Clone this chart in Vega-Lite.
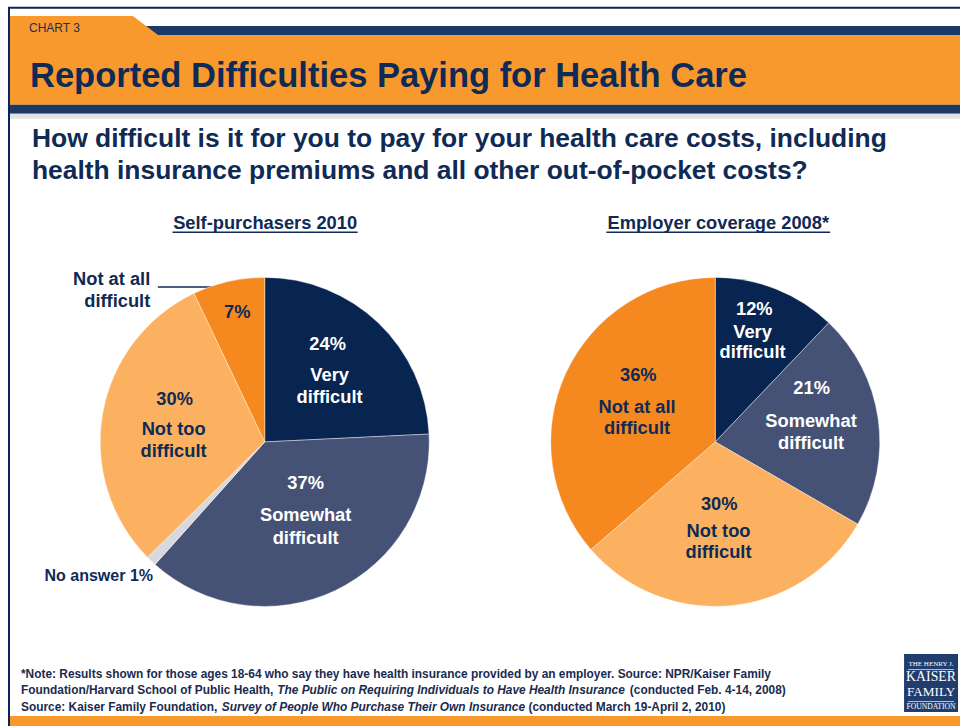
{
  "$schema": "https://vega.github.io/schema/vega-lite/v6.json",
  "width": 961,
  "height": 727,
  "autosize": {"type": "fit", "contains": "padding"},
  "padding": 0,
  "background": "white",
  "config": {
    "view": {"stroke": null},
    "axis": {"disable": true},
    "legend": {"disable": true},
    "font": "Liberation Sans"
  },
  "datasets": {
    "pies": [
      {"chart": "Self-purchasers 2010", "slot": 1, "cat": "Very difficult", "pct": 24, "pctLabel": "24%", "name": "Very\ndifficult"},
      {"chart": "Self-purchasers 2010", "slot": 2, "cat": "Somewhat difficult", "pct": 37, "pctLabel": "37%", "name": "Somewhat\ndifficult"},
      {"chart": "Self-purchasers 2010", "slot": 3, "cat": "No answer", "pct": 1, "pctLabel": "1%", "name": "No answer 1%"},
      {"chart": "Self-purchasers 2010", "slot": 4, "cat": "Not too difficult", "pct": 30, "pctLabel": "30%", "name": "Not too\ndifficult"},
      {"chart": "Self-purchasers 2010", "slot": 5, "cat": "Not at all difficult", "pct": 7, "pctLabel": "7%", "name": "Not at all\ndifficult"},
      {"chart": "Employer coverage 2008*", "slot": 1, "cat": "Very difficult", "pct": 12, "pctLabel": "12%", "name": "Very\ndifficult"},
      {"chart": "Employer coverage 2008*", "slot": 2, "cat": "Somewhat difficult", "pct": 21, "pctLabel": "21%", "name": "Somewhat\ndifficult"},
      {"chart": "Employer coverage 2008*", "slot": 3, "cat": "Not too difficult", "pct": 30, "pctLabel": "30%", "name": "Not too\ndifficult"},
      {"chart": "Employer coverage 2008*", "slot": 4, "cat": "Not at all difficult", "pct": 36, "pctLabel": "36%", "name": "Not at all\ndifficult"}
    ],
    "notes": [
      {"id": "chart", "text": "CHART 3"},
      {"id": "title", "text": "Reported Difficulties Paying for Health Care"},
      {"id": "q", "text": "How difficult is it for you to pay for your health care costs, including\nhealth insurance premiums and all other out-of-pocket costs?"},
      {"id": "sub1", "text": "Self-purchasers 2010"},
      {"id": "sub2", "text": "Employer coverage 2008*"},
      {"id": "f1", "text": "*Note: Results shown for those ages 18-64 who say they have health insurance provided by an employer. Source: NPR/Kaiser Family"},
      {"id": "f2a", "text": "Foundation/Harvard School of Public Health,"},
      {"id": "f2b", "text": "The Public on Requiring Individuals to Have Health Insurance"},
      {"id": "f2c", "text": "(conducted Feb. 4-14, 2008)"},
      {"id": "f3a", "text": "Source: Kaiser Family Foundation,"},
      {"id": "f3b", "text": "Survey of People Who Purchase Their Own Insurance"},
      {"id": "f3c", "text": "(conducted March 19-April 2, 2010)"},
      {"id": "logo1", "text": "THE HENRY J."},
      {"id": "logo2", "text": "KAISER"},
      {"id": "logo3", "text": "FAMILY"},
      {"id": "logo4", "text": "FOUNDATION"}
    ]
  },
  "layer": [
    {
      "data": {"values": [{}]},
      "mark": {"type": "rule", "color": "#0B2258", "strokeWidth": 2},
      "encoding": {
        "x": {"datum": 8, "type": "quantitative", "scale": {"domain": [0, 961], "nice": false, "zero": false}, "axis": null},
        "x2": {"datum": 961},
        "y": {"datum": 7.7, "type": "quantitative", "scale": {"domain": [0, 727], "nice": false, "zero": false, "reverse": true}, "axis": null}
      }
    },
    {
      "data": {"values": [{}]},
      "mark": {"type": "rule", "color": "#0B2258", "strokeWidth": 2},
      "encoding": {
        "x": {"datum": 9, "type": "quantitative", "scale": {"domain": [0, 961], "nice": false, "zero": false}, "axis": null},
        "y": {"datum": 7, "type": "quantitative", "scale": {"domain": [0, 727], "nice": false, "zero": false, "reverse": true}, "axis": null},
        "y2": {"datum": 727}
      }
    },
    {
      "data": {"values": [{}]},
      "mark": {"type": "rect", "color": "#F8992D"},
      "encoding": {
        "x": {"datum": 10, "type": "quantitative", "scale": {"domain": [0, 961], "nice": false, "zero": false}, "axis": null},
        "x2": {"datum": 961},
        "y": {"datum": 26, "type": "quantitative", "scale": {"domain": [0, 727], "nice": false, "zero": false, "reverse": true}, "axis": null},
        "y2": {"datum": 105}
      }
    },
    {
      "data": {"values": [{}]},
      "mark": {"type": "rect", "color": "#F8992D"},
      "encoding": {
        "x": {"datum": 10, "type": "quantitative", "scale": {"domain": [0, 961], "nice": false, "zero": false}, "axis": null},
        "x2": {"datum": 133},
        "y": {"datum": 16, "type": "quantitative", "scale": {"domain": [0, 727], "nice": false, "zero": false, "reverse": true}, "axis": null},
        "y2": {"datum": 26}
      }
    },
    {
      "data": {"values": [{}]},
      "mark": {"type": "rect", "color": "#1B3A66"},
      "encoding": {
        "x": {"datum": 146, "type": "quantitative", "scale": {"domain": [0, 961], "nice": false, "zero": false}, "axis": null},
        "x2": {"datum": 961},
        "y": {"datum": 26, "type": "quantitative", "scale": {"domain": [0, 727], "nice": false, "zero": false, "reverse": true}, "axis": null},
        "y2": {"datum": 35}
      }
    },
    {
      "data": {"values": [{}]},
      "mark": {"type": "rule", "color": "#F8992D", "strokeWidth": 8, "strokeCap": "butt"},
      "encoding": {
        "x": {"datum": 130.6, "type": "quantitative", "scale": {"domain": [0, 961], "nice": false, "zero": false}, "axis": null},
        "x2": {"datum": 157.5},
        "y": {"datum": 19.2, "type": "quantitative", "scale": {"domain": [0, 727], "nice": false, "zero": false, "reverse": true}, "axis": null},
        "y2": {"datum": 39.6}
      }
    },
    {
      "data": {"values": [{}]},
      "mark": {"type": "rect", "color": "#1B3A66"},
      "encoding": {
        "x": {"datum": 10, "type": "quantitative", "scale": {"domain": [0, 961], "nice": false, "zero": false}, "axis": null},
        "x2": {"datum": 961},
        "y": {"datum": 105, "type": "quantitative", "scale": {"domain": [0, 727], "nice": false, "zero": false, "reverse": true}, "axis": null},
        "y2": {"datum": 114}
      }
    },
    {
      "data": {"values": [{}]},
      "mark": {"type": "rect", "color": "#E3E3E3"},
      "encoding": {
        "x": {"datum": 10, "type": "quantitative", "scale": {"domain": [0, 961], "nice": false, "zero": false}, "axis": null},
        "x2": {"datum": 961},
        "y": {"datum": 114, "type": "quantitative", "scale": {"domain": [0, 727], "nice": false, "zero": false, "reverse": true}, "axis": null},
        "y2": {"datum": 119}
      }
    },
    {
      "data": {"values": [{}]},
      "mark": {"type": "rect", "color": "#F8992D"},
      "encoding": {
        "x": {"datum": 10, "type": "quantitative", "scale": {"domain": [0, 961], "nice": false, "zero": false}, "axis": null},
        "x2": {"datum": 961},
        "y": {"datum": 717, "type": "quantitative", "scale": {"domain": [0, 727], "nice": false, "zero": false, "reverse": true}, "axis": null},
        "y2": {"datum": 727}
      }
    },
    {
      "data": {"values": [{}]},
      "mark": {"type": "rect", "color": "#213D6D"},
      "encoding": {
        "x": {"datum": 905, "type": "quantitative", "scale": {"domain": [0, 961], "nice": false, "zero": false}, "axis": null},
        "x2": {"datum": 959},
        "y": {"datum": 655, "type": "quantitative", "scale": {"domain": [0, 727], "nice": false, "zero": false, "reverse": true}, "axis": null},
        "y2": {"datum": 713}
      }
    },
    {
      "data": {"values": [{}]},
      "mark": {"type": "rule", "color": "#FFFFFF", "strokeWidth": 0.7},
      "encoding": {
        "x": {"datum": 909, "type": "quantitative", "scale": {"domain": [0, 961], "nice": false, "zero": false}, "axis": null},
        "x2": {"datum": 955},
        "y": {"datum": 670.5, "type": "quantitative", "scale": {"domain": [0, 727], "nice": false, "zero": false, "reverse": true}, "axis": null}
      }
    },
    {
      "data": {"values": [{}]},
      "mark": {"type": "rule", "color": "#FFFFFF", "strokeWidth": 0.7},
      "encoding": {
        "x": {"datum": 909, "type": "quantitative", "scale": {"domain": [0, 961], "nice": false, "zero": false}, "axis": null},
        "x2": {"datum": 955},
        "y": {"datum": 702.5, "type": "quantitative", "scale": {"domain": [0, 727], "nice": false, "zero": false, "reverse": true}, "axis": null}
      }
    },
    {
      "data": {"values": [{}]},
      "mark": {"type": "rule", "color": "#0F2A55", "strokeWidth": 1.6},
      "encoding": {
        "x": {"datum": 172.7, "type": "quantitative", "scale": {"domain": [0, 961], "nice": false, "zero": false}, "axis": null},
        "x2": {"datum": 358},
        "y": {"datum": 232.5, "type": "quantitative", "scale": {"domain": [0, 727], "nice": false, "zero": false, "reverse": true}, "axis": null}
      }
    },
    {
      "data": {"values": [{}]},
      "mark": {"type": "rule", "color": "#0F2A55", "strokeWidth": 1.6},
      "encoding": {
        "x": {"datum": 607, "type": "quantitative", "scale": {"domain": [0, 961], "nice": false, "zero": false}, "axis": null},
        "x2": {"datum": 831},
        "y": {"datum": 232.5, "type": "quantitative", "scale": {"domain": [0, 727], "nice": false, "zero": false, "reverse": true}, "axis": null}
      }
    },
    {
      "data": {"values": [{}]},
      "mark": {"type": "rule", "color": "#0F2A55", "strokeWidth": 1.5},
      "encoding": {
        "x": {"datum": 158, "type": "quantitative", "scale": {"domain": [0, 961], "nice": false, "zero": false}, "axis": null},
        "x2": {"datum": 220},
        "y": {"datum": 287.5, "type": "quantitative", "scale": {"domain": [0, 727], "nice": false, "zero": false, "reverse": true}, "axis": null}
      }
    },
    {
      "data": {"name": "notes"},
      "transform": [{"filter": "datum.id === 'chart'"}],
      "mark": {"type": "text", "align": "left", "baseline": "alphabetic", "fontSize": 12, "color": "#1C2E4F"},
      "encoding": {
        "text": {"field": "text"},
        "x": {"datum": 29, "type": "quantitative", "scale": {"domain": [0, 961], "nice": false, "zero": false}, "axis": null},
        "y": {"datum": 32.5, "type": "quantitative", "scale": {"domain": [0, 727], "nice": false, "zero": false, "reverse": true}, "axis": null}
      }
    },
    {
      "data": {"name": "notes"},
      "transform": [{"filter": "datum.id === 'title'"}],
      "mark": {"type": "text", "align": "left", "baseline": "alphabetic", "fontSize": 34.5, "fontWeight": "bold", "color": "#0F2A55"},
      "encoding": {
        "text": {"field": "text"},
        "x": {"datum": 30, "type": "quantitative", "scale": {"domain": [0, 961], "nice": false, "zero": false}, "axis": null},
        "y": {"datum": 87, "type": "quantitative", "scale": {"domain": [0, 727], "nice": false, "zero": false, "reverse": true}, "axis": null}
      }
    },
    {
      "data": {"name": "notes"},
      "transform": [{"filter": "datum.id === 'q'"}],
      "mark": {"type": "text", "align": "left", "baseline": "alphabetic", "fontSize": 26.4, "fontWeight": "bold", "color": "#0F2A55", "lineBreak": "\n", "lineHeight": 31.8},
      "encoding": {
        "text": {"field": "text"},
        "x": {"datum": 32, "type": "quantitative", "scale": {"domain": [0, 961], "nice": false, "zero": false}, "axis": null},
        "y": {"datum": 147.5, "type": "quantitative", "scale": {"domain": [0, 727], "nice": false, "zero": false, "reverse": true}, "axis": null}
      }
    },
    {
      "data": {"name": "notes"},
      "transform": [{"filter": "datum.id === 'sub1'"}],
      "mark": {"type": "text", "align": "center", "baseline": "alphabetic", "fontSize": 18.3, "fontWeight": "bold", "color": "#0F2A55"},
      "encoding": {
        "text": {"field": "text"},
        "x": {"datum": 265.4, "type": "quantitative", "scale": {"domain": [0, 961], "nice": false, "zero": false}, "axis": null},
        "y": {"datum": 229.2, "type": "quantitative", "scale": {"domain": [0, 727], "nice": false, "zero": false, "reverse": true}, "axis": null}
      }
    },
    {
      "data": {"name": "notes"},
      "transform": [{"filter": "datum.id === 'sub2'"}],
      "mark": {"type": "text", "align": "center", "baseline": "alphabetic", "fontSize": 18.3, "fontWeight": "bold", "color": "#0F2A55"},
      "encoding": {
        "text": {"field": "text"},
        "x": {"datum": 719, "type": "quantitative", "scale": {"domain": [0, 961], "nice": false, "zero": false}, "axis": null},
        "y": {"datum": 229.2, "type": "quantitative", "scale": {"domain": [0, 727], "nice": false, "zero": false, "reverse": true}, "axis": null}
      }
    },
    {
      "data": {"name": "notes"},
      "transform": [{"filter": "datum.id === 'f1'"}],
      "mark": {"type": "text", "align": "left", "baseline": "alphabetic", "fontSize": 11.9, "fontWeight": "bold", "color": "#1A2B4F"},
      "encoding": {
        "text": {"field": "text"},
        "x": {"datum": 21, "type": "quantitative", "scale": {"domain": [0, 961], "nice": false, "zero": false}, "axis": null},
        "y": {"datum": 679, "type": "quantitative", "scale": {"domain": [0, 727], "nice": false, "zero": false, "reverse": true}, "axis": null}
      }
    },
    {
      "data": {"name": "notes"},
      "transform": [{"filter": "datum.id === 'f2a'"}],
      "mark": {"type": "text", "align": "left", "baseline": "alphabetic", "fontSize": 11.9, "fontWeight": "bold", "color": "#1A2B4F"},
      "encoding": {
        "text": {"field": "text"},
        "x": {"datum": 21, "type": "quantitative", "scale": {"domain": [0, 961], "nice": false, "zero": false}, "axis": null},
        "y": {"datum": 694.5, "type": "quantitative", "scale": {"domain": [0, 727], "nice": false, "zero": false, "reverse": true}, "axis": null}
      }
    },
    {
      "data": {"name": "notes"},
      "transform": [{"filter": "datum.id === 'f2b'"}],
      "mark": {"type": "text", "align": "left", "baseline": "alphabetic", "fontSize": 11.9, "fontWeight": "bold", "fontStyle": "italic", "color": "#1A2B4F"},
      "encoding": {
        "text": {"field": "text"},
        "x": {"datum": 277.5, "type": "quantitative", "scale": {"domain": [0, 961], "nice": false, "zero": false}, "axis": null},
        "y": {"datum": 694.5, "type": "quantitative", "scale": {"domain": [0, 727], "nice": false, "zero": false, "reverse": true}, "axis": null}
      }
    },
    {
      "data": {"name": "notes"},
      "transform": [{"filter": "datum.id === 'f2c'"}],
      "mark": {"type": "text", "align": "left", "baseline": "alphabetic", "fontSize": 11.9, "fontWeight": "bold", "color": "#1A2B4F"},
      "encoding": {
        "text": {"field": "text"},
        "x": {"datum": 630.5, "type": "quantitative", "scale": {"domain": [0, 961], "nice": false, "zero": false}, "axis": null},
        "y": {"datum": 694.5, "type": "quantitative", "scale": {"domain": [0, 727], "nice": false, "zero": false, "reverse": true}, "axis": null}
      }
    },
    {
      "data": {"name": "notes"},
      "transform": [{"filter": "datum.id === 'f3a'"}],
      "mark": {"type": "text", "align": "left", "baseline": "alphabetic", "fontSize": 11.9, "fontWeight": "bold", "color": "#1A2B4F"},
      "encoding": {
        "text": {"field": "text"},
        "x": {"datum": 21, "type": "quantitative", "scale": {"domain": [0, 961], "nice": false, "zero": false}, "axis": null},
        "y": {"datum": 712, "type": "quantitative", "scale": {"domain": [0, 727], "nice": false, "zero": false, "reverse": true}, "axis": null}
      }
    },
    {
      "data": {"name": "notes"},
      "transform": [{"filter": "datum.id === 'f3b'"}],
      "mark": {"type": "text", "align": "left", "baseline": "alphabetic", "fontSize": 11.9, "fontWeight": "bold", "fontStyle": "italic", "color": "#1A2B4F"},
      "encoding": {
        "text": {"field": "text"},
        "x": {"datum": 222, "type": "quantitative", "scale": {"domain": [0, 961], "nice": false, "zero": false}, "axis": null},
        "y": {"datum": 712, "type": "quantitative", "scale": {"domain": [0, 727], "nice": false, "zero": false, "reverse": true}, "axis": null}
      }
    },
    {
      "data": {"name": "notes"},
      "transform": [{"filter": "datum.id === 'f3c'"}],
      "mark": {"type": "text", "align": "left", "baseline": "alphabetic", "fontSize": 11.9, "fontWeight": "bold", "color": "#1A2B4F"},
      "encoding": {
        "text": {"field": "text"},
        "x": {"datum": 529, "type": "quantitative", "scale": {"domain": [0, 961], "nice": false, "zero": false}, "axis": null},
        "y": {"datum": 712, "type": "quantitative", "scale": {"domain": [0, 727], "nice": false, "zero": false, "reverse": true}, "axis": null}
      }
    },
    {
      "data": {"name": "notes"},
      "transform": [{"filter": "datum.id === 'logo1'"}],
      "mark": {"type": "text", "align": "center", "baseline": "alphabetic", "fontSize": 7, "font": "Liberation Serif", "color": "#FFFFFF"},
      "encoding": {
        "text": {"field": "text"},
        "x": {"datum": 932, "type": "quantitative", "scale": {"domain": [0, 961], "nice": false, "zero": false}, "axis": null},
        "y": {"datum": 667.3, "type": "quantitative", "scale": {"domain": [0, 727], "nice": false, "zero": false, "reverse": true}, "axis": null}
      }
    },
    {
      "data": {"name": "notes"},
      "transform": [{"filter": "datum.id === 'logo2'"}],
      "mark": {"type": "text", "align": "center", "baseline": "alphabetic", "fontSize": 13.8, "font": "Liberation Serif", "color": "#FFFFFF"},
      "encoding": {
        "text": {"field": "text"},
        "x": {"datum": 932, "type": "quantitative", "scale": {"domain": [0, 961], "nice": false, "zero": false}, "axis": null},
        "y": {"datum": 682, "type": "quantitative", "scale": {"domain": [0, 727], "nice": false, "zero": false, "reverse": true}, "axis": null}
      }
    },
    {
      "data": {"name": "notes"},
      "transform": [{"filter": "datum.id === 'logo3'"}],
      "mark": {"type": "text", "align": "center", "baseline": "alphabetic", "fontSize": 13.2, "font": "Liberation Serif", "color": "#FFFFFF"},
      "encoding": {
        "text": {"field": "text"},
        "x": {"datum": 932, "type": "quantitative", "scale": {"domain": [0, 961], "nice": false, "zero": false}, "axis": null},
        "y": {"datum": 697, "type": "quantitative", "scale": {"domain": [0, 727], "nice": false, "zero": false, "reverse": true}, "axis": null}
      }
    },
    {
      "data": {"name": "notes"},
      "transform": [{"filter": "datum.id === 'logo4'"}],
      "mark": {"type": "text", "align": "center", "baseline": "alphabetic", "fontSize": 7.6, "font": "Liberation Serif", "color": "#FFFFFF"},
      "encoding": {
        "text": {"field": "text"},
        "x": {"datum": 932, "type": "quantitative", "scale": {"domain": [0, 961], "nice": false, "zero": false}, "axis": null},
        "y": {"datum": 710, "type": "quantitative", "scale": {"domain": [0, 727], "nice": false, "zero": false, "reverse": true}, "axis": null}
      }
    },
    {
      "data": {"name": "pies"},
      "transform": [{"filter": "datum.chart === 'Self-purchasers 2010'"}],
      "encoding": {
        "theta": {"field": "pct", "type": "quantitative", "stack": true},
        "order": {"field": "slot", "type": "quantitative"},
        "detail": {"field": "cat", "type": "nominal"},
        "x": {"datum": 265, "type": "quantitative", "scale": {"domain": [0, 961], "nice": false, "zero": false}, "axis": null},
        "y": {"datum": 442.5, "type": "quantitative", "scale": {"domain": [0, 727], "nice": false, "zero": false, "reverse": true}, "axis": null}
      },
      "layer": [
        {
          "mark": {"type": "arc", "outerRadius": 164.5, "stroke": "#FFFFFF", "strokeWidth": 0.4},
          "encoding": {
            "color": {"field": "cat", "type": "nominal", "legend": null,
              "scale": {"domain": ["Very difficult", "Somewhat difficult", "No answer", "Not too difficult", "Not at all difficult"],
                        "range": ["#072550", "#465275", "#D8D8DF", "#FBB160", "#F5891F"]}}
          }
        },
        {
          "mark": {"type": "text", "radius": 94, "dx": -2, "dy": -29, "fontSize": 18.3, "fontWeight": "bold", "color": "#FFFFFF", "align": "center", "baseline": "middle"},
          "encoding": {"text": {"field": "pctLabel", "type": "nominal", "condition": {"test": "datum.cat !== 'Very difficult'", "value": ""}}}
        },
        {
          "mark": {"type": "text", "radius": 94, "dx": 0, "dy": 2, "fontSize": 18.3, "fontWeight": "bold", "color": "#FFFFFF", "align": "center", "baseline": "middle", "lineBreak": "\n", "lineHeight": 22},
          "encoding": {"text": {"field": "name", "type": "nominal", "condition": {"test": "datum.cat !== 'Very difficult'", "value": ""}}}
        },
        {
          "mark": {"type": "text", "radius": 82, "dx": 5.7, "dy": -31.7, "fontSize": 18.3, "fontWeight": "bold", "color": "#FFFFFF", "align": "center", "baseline": "middle"},
          "encoding": {"text": {"field": "pctLabel", "type": "nominal", "condition": {"test": "datum.cat !== 'Somewhat difficult'", "value": ""}}}
        },
        {
          "mark": {"type": "text", "radius": 82, "dx": 5.7, "dy": 0.3, "fontSize": 18.3, "fontWeight": "bold", "color": "#FFFFFF", "align": "center", "baseline": "middle", "lineBreak": "\n", "lineHeight": 22.5},
          "encoding": {"text": {"field": "name", "type": "nominal", "condition": {"test": "datum.cat !== 'Somewhat difficult'", "value": ""}}}
        },
        {
          "mark": {"type": "text", "radius": 92, "dx": 0.5, "dy": -26.2, "fontSize": 18.3, "fontWeight": "bold", "color": "#0F2A55", "align": "center", "baseline": "middle"},
          "encoding": {"text": {"field": "pctLabel", "type": "nominal", "condition": {"test": "datum.cat !== 'Not too difficult'", "value": ""}}}
        },
        {
          "mark": {"type": "text", "radius": 92, "dx": -0.5, "dy": 4.3, "fontSize": 18.3, "fontWeight": "bold", "color": "#0F2A55", "align": "center", "baseline": "middle", "lineBreak": "\n", "lineHeight": 21.8},
          "encoding": {"text": {"field": "name", "type": "nominal", "condition": {"test": "datum.cat !== 'Not too difficult'", "value": ""}}}
        },
        {
          "mark": {"type": "text", "radius": 134, "dx": 2, "dy": 1.5, "fontSize": 18.3, "fontWeight": "bold", "color": "#0F2A55", "align": "center", "baseline": "middle"},
          "encoding": {"text": {"field": "pctLabel", "type": "nominal", "condition": {"test": "datum.cat !== 'Not at all difficult'", "value": ""}}}
        },
        {
          "mark": {"type": "text", "radius": 170, "dx": -77, "dy": 3.6, "fontSize": 18.3, "fontWeight": "bold", "color": "#0F2A55", "align": "right", "baseline": "middle", "lineBreak": "\n", "lineHeight": 22.4},
          "encoding": {"text": {"field": "name", "type": "nominal", "condition": {"test": "datum.cat !== 'Not at all difficult'", "value": ""}}}
        },
        {
          "mark": {"type": "text", "radius": 180, "dx": 12.5, "dy": 4, "fontSize": 16, "fontWeight": "bold", "color": "#0F2A55", "align": "right", "baseline": "middle"},
          "encoding": {"text": {"field": "name", "type": "nominal", "condition": {"test": "datum.cat !== 'No answer'", "value": ""}}}
        }
      ]
    },
    {
      "data": {"name": "pies"},
      "transform": [{"filter": "datum.chart === 'Employer coverage 2008*'"}],
      "encoding": {
        "theta": {"field": "pct", "type": "quantitative", "stack": true},
        "order": {"field": "slot", "type": "quantitative"},
        "detail": {"field": "cat", "type": "nominal"},
        "x": {"datum": 716, "type": "quantitative", "scale": {"domain": [0, 961], "nice": false, "zero": false}, "axis": null},
        "y": {"datum": 442.5, "type": "quantitative", "scale": {"domain": [0, 727], "nice": false, "zero": false, "reverse": true}, "axis": null}
      },
      "layer": [
        {
          "mark": {"type": "arc", "outerRadius": 164.5, "stroke": "#FFFFFF", "strokeWidth": 0.4},
          "encoding": {
            "color": {"field": "cat", "type": "nominal", "legend": null,
              "scale": {"domain": ["Very difficult", "Somewhat difficult", "No answer", "Not too difficult", "Not at all difficult"],
                        "range": ["#072550", "#465275", "#D8D8DF", "#FBB160", "#F5891F"]}}
          }
        },
        {
          "mark": {"type": "text", "radius": 116.8, "dx": -4.4, "dy": -23.3, "fontSize": 18.3, "fontWeight": "bold", "color": "#FFFFFF", "align": "center", "baseline": "middle"},
          "encoding": {"text": {"field": "pctLabel", "type": "nominal", "condition": {"test": "datum.cat !== 'Very difficult'", "value": ""}}}
        },
        {
          "mark": {"type": "text", "radius": 116.8, "dx": -6.1, "dy": -0.9, "fontSize": 18.3, "fontWeight": "bold", "color": "#FFFFFF", "align": "center", "baseline": "middle", "lineBreak": "\n", "lineHeight": 20.5},
          "encoding": {"text": {"field": "name", "type": "nominal", "condition": {"test": "datum.cat !== 'Very difficult'", "value": ""}}}
        },
        {
          "mark": {"type": "text", "radius": 98, "dx": -0.6, "dy": -39.3, "fontSize": 18.3, "fontWeight": "bold", "color": "#FFFFFF", "align": "center", "baseline": "middle"},
          "encoding": {"text": {"field": "pctLabel", "type": "nominal", "condition": {"test": "datum.cat !== 'Somewhat difficult'", "value": ""}}}
        },
        {
          "mark": {"type": "text", "radius": 98, "dx": -1.2, "dy": -5.8, "fontSize": 18.3, "fontWeight": "bold", "color": "#FFFFFF", "align": "center", "baseline": "middle", "lineBreak": "\n", "lineHeight": 21.7},
          "encoding": {"text": {"field": "name", "type": "nominal", "condition": {"test": "datum.cat !== 'Somewhat difficult'", "value": ""}}}
        },
        {
          "mark": {"type": "text", "radius": 88, "dx": -4.4, "dy": -24.9, "fontSize": 18.3, "fontWeight": "bold", "color": "#0F2A55", "align": "center", "baseline": "middle"},
          "encoding": {"text": {"field": "pctLabel", "type": "nominal", "condition": {"test": "datum.cat !== 'Not too difficult'", "value": ""}}}
        },
        {
          "mark": {"type": "text", "radius": 88, "dx": -5.1, "dy": 2.5, "fontSize": 18.3, "fontWeight": "bold", "color": "#0F2A55", "align": "center", "baseline": "middle", "lineBreak": "\n", "lineHeight": 21.5},
          "encoding": {"text": {"field": "name", "type": "nominal", "condition": {"test": "datum.cat !== 'Not too difficult'", "value": ""}}}
        },
        {
          "mark": {"type": "text", "radius": 86.5, "dx": 1.7, "dy": -29.8, "fontSize": 18.3, "fontWeight": "bold", "color": "#0F2A55", "align": "center", "baseline": "middle"},
          "encoding": {"text": {"field": "pctLabel", "type": "nominal", "condition": {"test": "datum.cat !== 'Not at all difficult'", "value": ""}}}
        },
        {
          "mark": {"type": "text", "radius": 86.5, "dx": 0.5, "dy": 2, "fontSize": 18.3, "fontWeight": "bold", "color": "#0F2A55", "align": "center", "baseline": "middle", "lineBreak": "\n", "lineHeight": 21.5},
          "encoding": {"text": {"field": "name", "type": "nominal", "condition": {"test": "datum.cat !== 'Not at all difficult'", "value": ""}}}
        }
      ]
    }
  ]
}
